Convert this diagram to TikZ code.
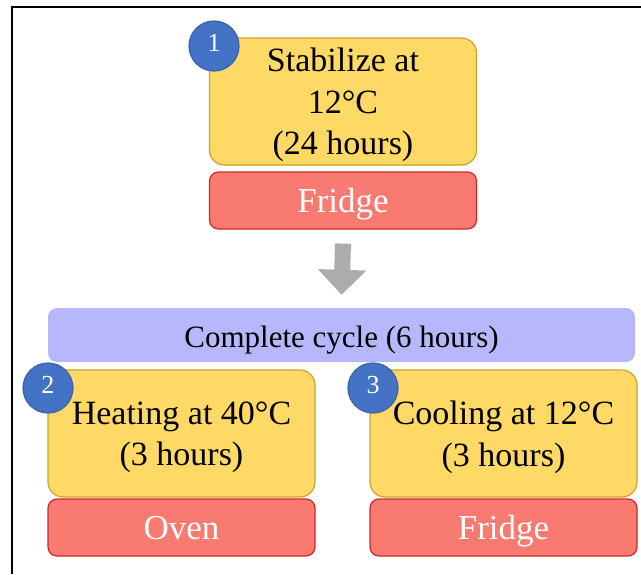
\documentclass[tikz,border=0pt]{standalone}
\usepackage{fontspec}
\setmainfont{Liberation Serif}
\usetikzlibrary{arrows.meta}
\tikzset{>={Triangle[width=47pt,length=25pt]}}

\definecolor{stepfill}{HTML}{FFD966}
\definecolor{stepline}{HTML}{C9A227}
\definecolor{placefill}{HTML}{F87A70}
\definecolor{placeline}{HTML}{D0282A}
\definecolor{cyclefill}{HTML}{B7B7FD}
\definecolor{numfill}{HTML}{4472C4}
\definecolor{numline}{HTML}{3A62A8}
\definecolor{arrowgray}{HTML}{AEABAB}

\tikzset{
  stepbox/.style={draw=stepline, fill=stepfill, line width=1.2pt, rounded corners=15pt,
    minimum width=267pt, minimum height=127pt, inner sep=0pt, align=center,
    text depth=-1pt, font=\fontsize{34}{41.5}\selectfont},
  placebox/.style={draw=placeline, fill=placefill, line width=1.2pt, rounded corners=9pt,
    minimum width=267pt, minimum height=57pt, inner sep=0pt, text=white,
    text height=31pt, text depth=7pt, font=\fontsize{35}{40}\selectfont},
  cyclebar/.style={fill=cyclefill, rounded corners=9pt, minimum width=587pt,
    minimum height=54pt, inner sep=0pt, text height=30pt, text depth=6pt,
    font=\fontsize{31}{38}\selectfont},
  numdot/.style={circle, draw=numline, fill=numfill, line width=1.2pt, minimum size=50pt,
    inner sep=0pt, text=white, text depth=6pt, font=\fontsize{26}{26}\selectfont},
  bigarrow/.style={->, draw=arrowgray, fill=arrowgray, line width=16pt},
}

\begin{document}
\begin{tikzpicture}[x=1pt, y=-1pt]

  \useasboundingbox (0, 0) rectangle (641, 574);

  %% frame
  \coordinate (corner) at (12, 7);
  \draw[line width=1.6pt] (12, 574) -- (corner) -- (641, 7);

  %% stabilize
  \node[stepbox] (stab) at (343, 101.5) {Stabilize at\\12°C\\(24 hours)};
  \node[placebox] (fridgeA) at (343, 200.5) {Fridge};
  \node[numdot] (numA) at (214, 46) {1};

  \node[cyclebar] (cycle) at (341.5, 335) {Complete cycle (6 hours)};
  \draw[bigarrow] ([yshift=-14pt]fridgeA.south) -- ([yshift=13pt]cycle.north); % fridge -> cycle

  %% heating
  \node[stepbox] (heat) at (181.5, 433.5) {Heating at 40°C\\(3 hours)};
  \node[placebox] (oven) at (181.5, 527.5) {Oven};
  \node[numdot] (numB) at (48, 388) {2};

  %% cooling
  \node[stepbox] (cool) at (503.5, 433.5) {Cooling at 12°C\\(3 hours)};
  \node[placebox] (fridgeB) at (503.5, 527.5) {Fridge};
  \node[numdot] (numC) at (373, 388) {3};

\end{tikzpicture}
\end{document}
